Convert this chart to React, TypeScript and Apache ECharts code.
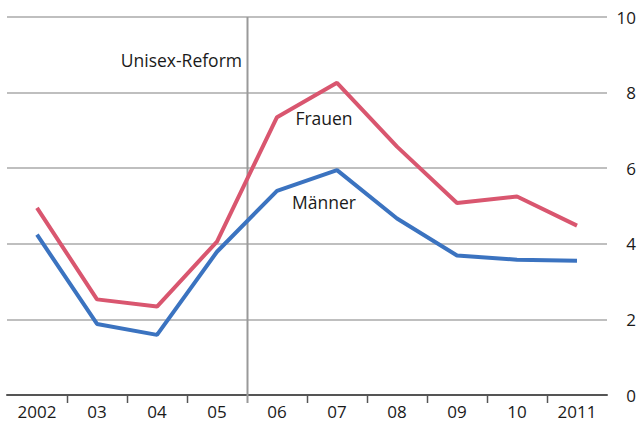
import React, { useEffect, useRef } from "react";
import * as echarts from "echarts";

const years = ["2002", "03", "04", "05", "06", "07", "08", "09", "10", "2011"];
const frauen = [4.95, 2.53, 2.34, 4.06, 7.35, 8.26, 6.57, 5.08, 5.25, 4.48];
const maenner = [4.24, 1.88, 1.59, 3.79, 5.4, 5.95, 4.67, 3.69, 3.58, 3.55];
const yTicks = [0, 2, 4, 6, 8, 10];
const reformBoundary = 4; // boundary before "06"

const FONT = "'Open Sans', sans-serif";

export default function App() {
  const ref = useRef<HTMLDivElement>(null);
  useEffect(() => {
    if (!ref.current) return;
    const chart = echarts.init(ref.current, null, { renderer: "svg" });
    chart.setOption({
      animation: false,
      grid: { left: 7, right: 31, top: 17, bottom: 46 },
      xAxis: {
        type: "category",
        data: years,
        boundaryGap: true,
        axisLine: { lineStyle: { color: "#555", width: 2 } },
        axisTick: { show: false },
        axisLabel: { color: "#1a1a1a", fontSize: 17, fontFamily: FONT, margin: 8 },
        splitLine: { show: false },
      },
      yAxis: {
        type: "value",
        position: "right",
        min: yTicks[0],
        max: yTicks[yTicks.length - 1],
        interval: 2,
        axisLine: { show: false },
        axisTick: { show: false },
        axisLabel: { color: "#1a1a1a", fontSize: 17, fontFamily: FONT, align: "right", margin: 29 },
        splitLine: { lineStyle: { color: "#aaa", width: 1.5 } },
      },
      series: [
        {
          name: "Frauen",
          type: "line",
          data: frauen,
          symbol: "none",
          lineStyle: { color: "#d9566f", width: 4 },
          z: 3,
        },
        {
          name: "Männer",
          type: "line",
          data: maenner,
          symbol: "none",
          lineStyle: { color: "#3b73c0", width: 4 },
          z: 3,
        },
      ],
    });

    const c0 = chart.convertToPixel({ xAxisIndex: 0 }, 0) as number;
    const c1 = chart.convertToPixel({ xAxisIndex: 0 }, 1) as number;
    const band = c1 - c0;
    const yBottom = chart.convertToPixel({ yAxisIndex: 0 }, 0) as number;
    const yTop = chart.convertToPixel({ yAxisIndex: 0 }, 10) as number;
    const elements: any[] = [];
    for (let i = 1; i < years.length; i++) {
      const x = Math.round(c0 + band * (i - 0.5)) + 0.5;
      if (i === reformBoundary) {
        elements.push({
          type: "line",
          shape: { x1: x, y1: yTop, x2: x, y2: yBottom + 8 },
          style: { stroke: "#999", lineWidth: 2 },
          z: 1,
        });
      } else {
        elements.push({
          type: "line",
          shape: { x1: x, y1: yBottom, x2: x, y2: yBottom + 8 },
          style: { stroke: "#555", lineWidth: 1.5 },
        });
      }
    }
    const xr = c0 + band * (reformBoundary - 0.5);
    const f = `17.5px ${FONT}`;
    elements.push({
      type: "text",
      x: xr - 5,
      y: 60,
      style: { text: "Unisex-Reform", fill: "#1a1a1a", font: f, align: "right", verticalAlign: "middle" },
    });
    elements.push({
      type: "text",
      x: 324,
      y: 118,
      style: { text: "Frauen", fill: "#1a1a1a", font: f, align: "center", verticalAlign: "middle" },
    });
    elements.push({
      type: "text",
      x: 324,
      y: 202,
      style: { text: "Männer", fill: "#1a1a1a", font: f, align: "center", verticalAlign: "middle" },
    });
    chart.setOption({ graphic: elements });

    return () => chart.dispose();
  }, []);
  return <div ref={ref} style={{ width: 639, height: 441, position: "absolute", left: 0, top: 0 }} />;
}
